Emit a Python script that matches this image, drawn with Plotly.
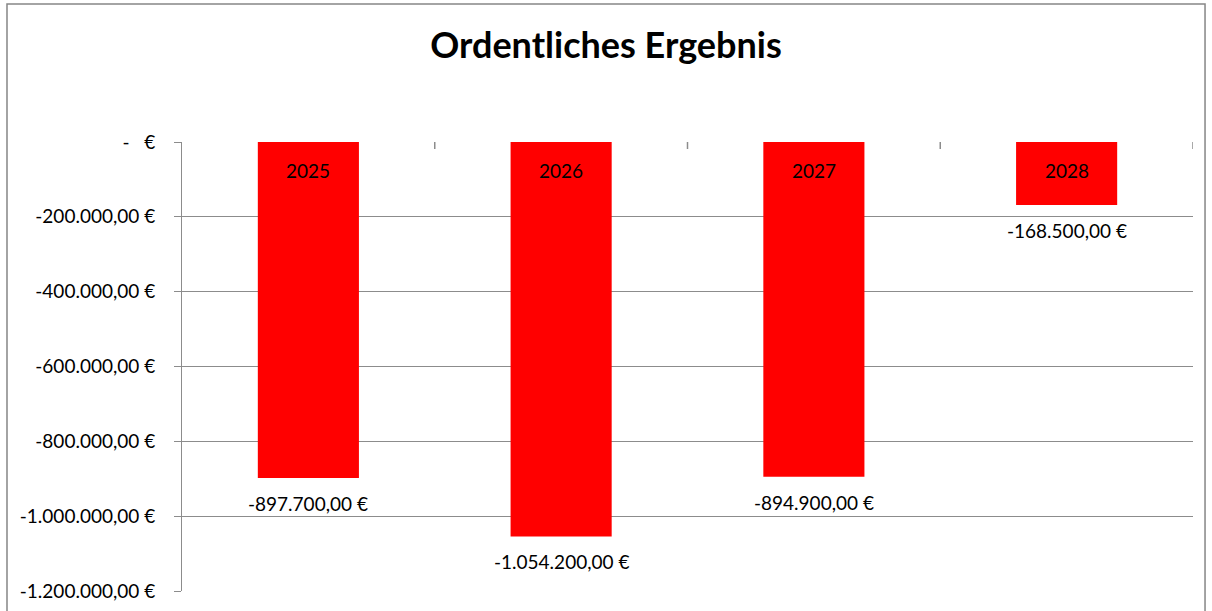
import plotly.graph_objects as go

years = ["2025", "2026", "2027", "2028"]
values = [-897700, -1054200, -894900, -168500]
tick_values = [0, -200000, -400000, -600000, -800000, -1000000, -1200000]


def fmt_eur(v):
    if v == 0:
        return "-   €"
    s = f"{abs(v):,.2f}".replace(",", "X").replace(".", ",").replace("X", ".")
    return ("-" if v < 0 else "") + s + " €"


FONT = "Lato, Carlito, Calibri, sans-serif"
GRID = "#8C8C8C"

fig = go.Figure()
fig.add_trace(go.Bar(
    x=list(range(len(years))), y=values,
    marker=dict(color="#FF0000", line=dict(width=0)),
    width=0.4, hoverinfo="skip",
))

for i, (yr, v) in enumerate(zip(years, values)):
    fig.add_annotation(x=i, y=0, text=yr, showarrow=False, yanchor="top",
                       yshift=-15, font=dict(family=FONT, size=19, color="black"))
    fig.add_annotation(x=i, y=v, text=fmt_eur(v), showarrow=False, yanchor="top",
                       yshift=-12, font=dict(family=FONT, size=19, color="black"))

# category-boundary tick marks on the zero line, pointing down
for i in range(1, len(years) + 1):
    fig.add_shape(type="line", xref="x", yref="paper", x0=i - 0.5, x1=i - 0.5,
                  y0=1, y1=1 - 7 / 449, line=dict(color=GRID, width=1.5))

# outer chart border
fig.add_shape(type="rect", xref="paper", yref="paper",
              x0=-0.1731, x1=1.0119, y0=-0.2, y1=1.3073,
              line=dict(color="#868686", width=1.5), fillcolor="rgba(0,0,0,0)",
              layer="below")

fig.update_layout(
    width=1212, height=611,
    margin=dict(l=182, r=19, t=142, b=20, autoexpand=False),
    paper_bgcolor="white", plot_bgcolor="white",
    title=dict(text="<b>Ordentliches Ergebnis</b>", x=0.5, xanchor="center",
               y=0.926, yanchor="middle",
               font=dict(family=FONT, size=36, color="black")),
    showlegend=False,
    xaxis=dict(range=[-0.5, len(years) - 0.5],
               showticklabels=False, showgrid=False, zeroline=False,
               showline=False, ticks=""),
    yaxis=dict(range=[-1200000, 0], tickvals=tick_values,
               ticktext=[fmt_eur(v) for v in tick_values],
               showgrid=True, gridcolor=GRID, gridwidth=1,
               zeroline=False, showline=True, linecolor=GRID, linewidth=1,
               ticks="outside", ticklen=7, tickcolor=GRID, ticklabelstandoff=15,
               tickfont=dict(family=FONT, size=19, color="black")),
    bargap=0.6,
)

fig.write_html("out.html", config={"displayModeBar": False},
               post_script="document.body.style.margin='0';")
